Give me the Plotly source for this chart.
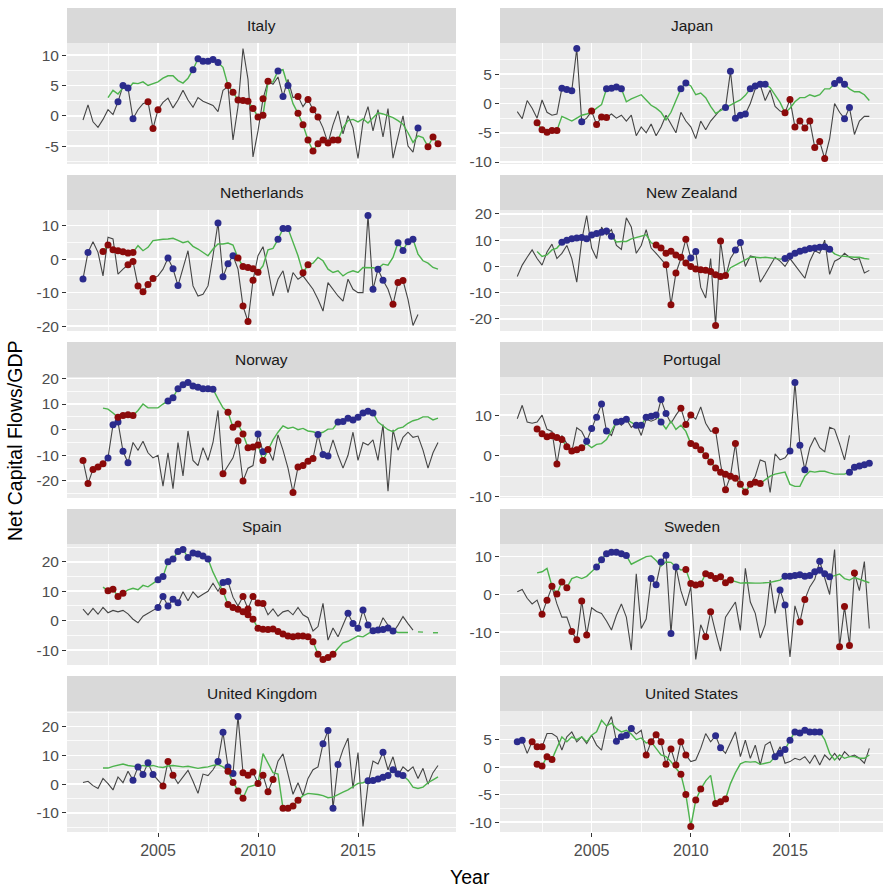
import plotly.graph_objects as go

# ---------------- data (quarterly, 2001.25 .. 2019.0) ----------------
START = 2001.25
STEP = 0.25
NQ = 72
quarters = [START + STEP * i for i in range(NQ)]
_ = None

italy_raw = [-0.7, 1.8, -1.0, -1.9, -0.6, 1.0, 0.2, 2.3, 5.0, 4.6,
             -0.5, 1.0, 2.0, 2.3, -2.1, 1.0, 2.2, 2.9, 1.3, 2.6,
             4.2, 2.6, 1.4, 3.0, 2.4, 2.1, 1.7, 0.7, 4.2, 4.8,
             -4.0, 1.5, 11.1, 6.0, -6.8, -2.5, 2.8, 5.7, 5.2, 6.4,
             3.2, 6.0, 3.0, 3.2, 1.5, 2.7, 1.0, -0.2, -2.0, -4.5,
             -1.5, 0.8, -3.0, 0.0, -2.0, -7.05, -1.0, 1.5, -2.5, 1.0,
             -3.5, 1.2, -7.0, -3.5, 0.0, -5.0, -6.0, -2.0, _, _, _, _]
italy_trend = [_, _, _, _, _, 3.0, 4.2, 3.6, 4.6, 4.4,
               5.4, 5.3, 5.6, 5.0, 5.3, 5.6, 6.2, 6.6, 6.6, 5.8,
               5.4, 6.2, 7.6, 9.4, 9.0, 9.0, 9.3, 8.8, 8.0, 5.0,
               3.9, 2.6, 2.5, 2.4, 1.2, -0.2, 0.1, 5.5, 5.6, 7.4,
               7.6, 5.0, 2.0, 0.4, -1.5, -4.0, -5.8, -4.6, -4.0, -4.5,
               -4.0, -4.0, -2.0, -0.8, -0.6, -1.0, -0.5, -1.2, -0.4, 0.5,
               0.3, 0.0, -0.3, -0.8, -1.4, -2.8, -4.4, -3.3, -3.6, -5.1, -3.5, -4.6]
italy_raw_surge = [7, 8, 9, 10, 40, 67]
italy_raw_stop = [13, 14, 15, 36, 37, 43, 45, 46, 47]
italy_trend_surge = [22, 23, 24, 25, 26, 27, 39, 41]
italy_trend_stop = [29, 30, 31, 32, 33, 34, 35, 36, 43, 44, 45, 46, 47, 48, 49, 50, 51, 69, 70, 71]

japan_raw = [-1.4, -2.6, 0.5, -0.8, -2.5, 0.6, -1.5, -2.0, -1.8, 2.6,
             2.4, 2.2, 9.4, -3.1, -2.5, -1.3, -3.6, -2.3, -2.4, -1.8,
             -2.5, -2.0, -3.0, -2.0, -5.5, -4.0, -5.0, -3.5, -5.5, -4.0,
             -2.0, -3.5, -5.0, -1.5, -3.0, -4.0, -6.0, -3.0, -4.5, -3.0,
             -2.0, -1.0, -0.7, 5.5, -2.5, -2.0, -1.8, 0.0, 2.5, 3.2,
             0.5, 2.3, -0.5, -1.3, -1.6, 0.7, -4.0, -3.0, -4.2, -3.0,
             -7.5, -6.5, -9.4, -6.0, 0.0, -1.5, -2.6, -0.7, -5.3, -3.0, -2.2, -2.2]
japan_trend = [_, _, _, _, -3.3, -4.5, -4.9, -4.6, -4.6, -2.2,
               -2.6, -3.0, -2.5, -2.0, -1.8, -1.5, -0.8, -0.2, 2.5, 2.6,
               2.8, 2.5, 0.3, 0.8, 1.2, 1.5, 0.6, -0.3, -0.8, -1.5,
               -2.8, -1.5, 0.5, 2.5, 3.5, 3.0, 1.5, 1.8, 1.0, -0.5,
               -1.7, -1.2, -0.8, -0.3, 0.2, 0.6, 1.4, 2.5, 3.0, 3.3,
               3.3, 2.7, 1.5, 0.2, -1.6, -0.8, 0.3, 1.0, 1.0, 1.5,
               1.2, 1.5, 2.5, 2.5, 3.4, 4.0, 3.3, 2.5, 2.0, 2.0, 1.5, 0.5]
japan_raw_surge = [9, 10, 11, 12, 13, 42, 43, 44, 45, 46, 66, 67]
japan_raw_stop = [15, 16, 17, 18, 55, 56, 57, 58, 59, 60, 61, 62]
japan_trend_surge = [18, 19, 20, 21, 33, 34, 47, 48, 49, 50, 64, 65, 66]
japan_trend_stop = [4, 5, 6, 7, 8, 54]

netherlands_raw = [-5.9, 2.0, 5.2, 2.0, -5.0, 6.5, 6.0, -4.5, -3.0, -1.7,
                   -0.7, -8.0, -9.7, -7.6, -5.8, -5.0, -3.0, 0.3, -2.9, -7.9,
                   -3.0, 2.5, -8.0, -11.0, -10.5, -8.0, 1.0, 10.8, -5.3, -1.4,
                   1.0, -3.0, -14.0, -18.6, -6.3, 1.0, 3.7, -3.0, -11.0, -6.0,
                   -3.5, -10.0, -4.0, -6.0, -5.0, -7.0, -9.0, -12.0, -15.5, -7.0,
                   -9.0, -11.0, -12.5, -6.0, -9.0, -10.0, -10.0, 13.0, -9.0, -3.0,
                   -6.3, -9.0, -13.5, -7.0, -6.4, -12.0, -19.8, -16.5, _, _, _, _]
netherlands_trend = [_, _, _, _, 2.3, 4.2, 2.8, 2.5, 2.2, 1.8,
                     2.0, 4.0, 2.5, 3.5, 5.5, 5.8, 5.9, 6.0, 6.2, 5.6,
                     4.9, 5.3, 3.8, 3.0, 2.0, 1.0, 3.0, 4.5, 4.5, 4.8,
                     4.2, 0.3, -2.2, -2.5, -2.9, -3.9, -2.0, 2.8, 3.2, 5.9,
                     9.1, 9.1, 5.0, 1.0, -4.1, -1.7, -1.2, 0.5, -0.5, -3.0,
                     -4.0, -3.5, -5.0, -4.0, -3.5, -4.0, -2.5, -2.5, -2.6, -2.8,
                     -1.5, -1.8, 0.5, 4.9, 2.6, 5.2, 5.9, 1.5, -0.5, -1.2, -2.5, -3.0]
netherlands_raw_surge = [0, 1, 17, 18, 19, 27, 28, 29, 30, 57, 58, 59, 60]
netherlands_raw_stop = [9, 10, 11, 12, 13, 14, 32, 33, 34, 62, 63, 64]
netherlands_trend_surge = [39, 40, 41, 63, 64, 65, 66]
netherlands_trend_stop = [4, 5, 6, 7, 8, 9, 10, 31, 32, 33, 34, 35, 44, 45]

nz_raw = [-3.8, 0.5, 3.5, 6.3, 3.0, 0.5, 5.5, 8.5, 3.0, 5.0,
          8.0, 3.0, -6.0, 10.0, 19.4, 7.0, 3.0, 15.0, 12.0, 14.0,
          8.0, 6.5, 18.5, 15.0, 5.0, 8.0, 14.0, 7.0, 5.0, 3.0,
          0.6, -14.6, -2.5, 3.0, 10.4, 3.2, 5.7, -8.0, -12.0, 3.0,
          -22.5, 9.7, -4.0, 3.0, 6.3, 9.1, 0.0, 4.0, 3.5, -6.0,
          -3.0, 0.5, 3.5, 2.0, 0.0, 3.0, 0.5, -2.0, -4.5, 2.0,
          6.0, 5.0, 10.0, -3.0, 2.0, 3.0, 5.0, 3.5, 2.5, 3.0, -2.5, -1.5]
nz_trend = [_, _, _, _, 5.7, 3.8, 4.4, 6.3, 7.0, 9.2,
            10.0, 10.5, 10.8, 11.0, 10.5, 12.0, 12.5, 13.0, 13.5, 11.5,
            9.3, 9.5, 9.5, 10.5, 11.0, 11.5, 12.0, 9.0, 8.2, 7.0,
            5.0, 5.8, 4.4, 3.5, 1.3, 0.0, -1.0, -1.3, -1.5, -1.9,
            -3.2, -3.8, -3.5, -0.5, 0.5, 1.5, 2.5, 3.5, 3.5, 3.3,
            3.5, 3.3, 3.0, 2.8, 3.0, 4.0, 5.0, 5.8, 6.3, 6.8,
            7.0, 7.3, 7.5, 6.5, 4.8, 4.0, 3.8, 3.5, 3.5, 3.5, 3.0, 2.8]
nz_raw_surge = [35, 36, 44, 45]
nz_raw_stop = [30, 31, 32, 34, 40, 41]
nz_trend_surge = [9, 10, 11, 12, 13, 14, 15, 16, 17, 18, 19,
                  54, 55, 56, 57, 58, 59, 60, 61, 62, 63]
nz_trend_stop = [28, 29, 30, 31, 32, 33, 34, 35, 36, 37, 38, 39, 40, 41, 42]

norway_raw = [-12.0, -21.0, -15.5, -14.6, -13.3, -11.0, 1.9, 3.0, -8.4, -12.9,
              -5.0, -8.0, -4.5, -9.0, -11.0, -10.0, -22.0, -9.0, -23.0, -5.0,
              -18.0, -0.5, -12.0, -14.0, -7.0, -12.0, -5.0, 7.5, -17.2, -14.0,
              -11.0, -4.3, -20.0, -15.0, -14.0, -1.7, -8.6, -7.7, -12.0, -2.0,
              -8.0, -15.0, -24.5, -14.6, -14.0, -12.3, -11.2, -1.9, -9.7, -10.3,
              -4.0, -10.0, -15.0, -10.0, -1.0, -12.0, -5.0, -6.0, -4.0, -12.0,
              2.0, -24.0, 0.0, -8.0, -3.0, -1.0, -3.0, -2.5, -8.0, -15.0, -9.0, -5.0]
norway_trend = [_, _, _, _, 8.4, 8.0, 6.5, 4.8, 5.5, 5.8,
                5.5, 7.5, 10.0, 8.5, 8.5, 8.5, 10.0, 11.2, 12.5, 16.0,
                17.5, 18.4, 17.0, 16.5, 16.0, 16.0, 15.8, 12.0, 8.5, 6.8,
                0.9, 2.2, -1.7, -7.0, -6.8, -6.0, -12.0, -8.0, -4.0, -1.0,
                1.5, 0.5, 1.0, 0.0, 0.5, -0.5, -0.8, -1.5, -1.0, 0.2,
                0.3, 3.0, 3.2, 4.5, 3.8, 4.8, 6.5, 7.2, 6.5, 3.0,
                1.5, 0.0, -0.8, 0.5, 1.0, 2.5, 3.5, 4.0, 5.0, 5.0, 3.8, 4.5]
norway_raw_surge = [5, 6, 7, 8, 9, 35, 36, 47, 48, 49]
norway_raw_stop = [0, 1, 2, 3, 4, 28, 31, 32, 37, 42, 43, 44, 45, 46]
norway_trend_surge = [17, 18, 19, 20, 21, 22, 23, 24, 25, 26,
                      51, 52, 53, 54, 55, 56, 57, 58]
norway_trend_stop = [7, 8, 9, 10, 29, 30, 31, 32, 33, 34, 35, 36]

portugal_raw = [9.1, 12.4, 8.3, 8.0, 8.3, 10.0, 6.5, 6.0, -2.0, 5.0,
                3.0, 1.0, 6.9, 6.0, 3.6, 6.7, 9.5, 12.7, 6.1, 5.0,
                8.5, 7.5, 9.0, 7.0, 8.0, 5.0, 9.0, 8.5, 9.0, 13.8,
                10.4, 8.0, 10.0, 11.7, 7.7, 10.0, 9.0, 12.0, 8.0, 6.0,
                6.2, -2.0, -8.3, -5.0, 3.0, -7.0, -9.0, -7.0, -5.0, -1.0,
                -1.5, -9.0, 0.5, -1.0, -0.5, 1.2, 18.0, 2.6, -3.4, 2.0,
                4.5, 2.0, 1.0, 7.0, 6.5, 3.0, -1.0, 5.0, _, _, _, _]
portugal_trend = [_, _, _, _, 6.6, 5.4, 4.7, 4.9, 4.5, 4.0,
                  2.2, 1.2, 1.5, 2.0, 3.0, 2.0, 2.8, 3.0, 4.0, 6.0,
                  8.3, 8.5, 9.0, 8.2, 7.5, 7.5, 9.5, 9.7, 10.0, 8.3,
                  6.6, 8.5, 6.5, 7.5, 6.0, 3.0, 2.5, 1.5, 0.0, -1.5,
                  -3.0, -4.0, -4.5, -5.0, -5.5, -7.0, -8.9, -7.0, -6.5, -6.8,
                  -6.0, -5.0, -4.5, -4.2, -4.0, -7.0, -7.5, -7.5, -5.0, -3.8,
                  -4.0, -3.8, -3.8, -4.2, -4.5, -4.5, -4.5, -4.0, -2.8, -2.5, -2.2, -1.8]
portugal_raw_surge = [14, 15, 16, 17, 18, 29, 30, 55, 56, 57, 58]
portugal_raw_stop = [8, 33, 34, 35, 40, 42, 44]
portugal_trend_surge = [20, 21, 22, 24, 25, 26, 27, 28, 29, 67, 68, 69, 70, 71]
portugal_trend_stop = [4, 5, 6, 7, 8, 9, 10, 11, 12, 13,
                       35, 36, 37, 38, 39, 40, 41, 42, 43, 44, 45, 46, 47, 48, 49]

spain_raw = [3.9, 2.0, 4.2, 2.2, 4.5, 2.7, 3.5, 3.0, 3.5, 2.3,
             0.5, -0.7, 1.5, 2.5, 3.5, 4.5, 8.2, 5.0, 7.3, 6.1,
             9.8, 6.8, 9.8, 7.9, 9.0, 10.0, 12.7, 10.0, 13.0, 13.3,
             8.0, 5.0, 8.2, 4.0, 8.2, 6.0, 5.8, 2.0, 4.0, 1.5,
             3.0, 3.5, 2.0, 4.5, 2.0, 1.0, -3.5, -2.0, 5.9, -6.6,
             -2.5, -5.5, -1.5, 2.5, -1.0, -2.6, 3.6, -1.5, -3.7, -3.2,
             1.0, -1.5, -4.0, -1.5, 1.4, -1.0, -3.2, _, _, _, _, _]
spain_trend = [_, _, _, _, 11.4, 10.2, 10.7, 8.2, 9.3, 10.5,
               11.0, 10.5, 12.0, 11.5, 12.7, 13.9, 15.0, 20.0, 21.0, 23.5,
               24.2, 21.5, 23.0, 22.7, 22.0, 21.0, 16.5, 13.0, 9.9, 5.5,
               4.5, 3.9, 3.0, 2.0, 0.5, -2.6, -2.9, -3.0, -2.8, -3.7,
               -4.5, -5.2, -5.5, -5.2, -5.2, -5.5, -7.2, -11.4, -13.2, -12.5,
               -11.4, -9.4, -7.5, -7.0, -6.0, -5.2, -5.5, -4.5, -3.4, -3.2,
               -3.0, -2.5, -3.5, -4.0, -4.0, -4.0, _, -3.8, -3.9, _, -4.1, -4.1]
spain_raw_surge = [15, 16, 17, 18, 19, 28, 29, 53, 54, 55, 56, 57]
spain_raw_stop = [32, 33, 34, 35, 36]
spain_trend_surge = [15, 16, 17, 18, 19, 20, 21, 22, 23, 24, 25, 58, 59, 60, 61, 62]
spain_trend_stop = [5, 6, 7, 8] + list(range(28, 51))

sweden_raw = [0.7, 1.3, -1.0, -2.5, -1.5, -5.2, -1.5, 2.0, -2.5, -6.0,
              -6.0, -9.8, -12.0, -1.7, -10.7, -3.5, -4.5, -5.0, -7.0, -9.4,
              -5.5, -2.5, -6.0, -14.7, 5.5, -9.0, -6.5, 4.2, 2.6, 8.6,
              10.4, -10.3, 7.3, 1.0, -3.0, 2.0, -17.2, -8.0, -11.2, -4.6,
              -10.0, -15.0, -6.0, -4.0, -2.0, -9.5, 6.9, -2.0, -5.0, -11.5,
              -8.0, 3.8, -5.0, 1.2, -2.8, -16.5, -3.0, -7.3, -1.3, 2.0,
              4.0, 8.8, 4.5, 0.0, 11.9, -13.8, -3.2, -13.5, 5.7, 1.0, 8.7, -9.0]
sweden_trend = [_, _, _, _, 5.7, 6.0, 6.9, 2.2, 0.1, 3.3,
                1.8, 4.2, 4.7, 4.2, 4.8, 6.0, 7.3, 9.2, 10.8, 11.2,
                11.2, 10.8, 10.3, 8.0, 8.7, 9.5, 10.0, 10.2, 9.0, 7.5,
                8.6, 8.5, 7.3, 6.5, 6.6, 2.9, 2.5, 2.8, 5.5, 5.0,
                4.2, 4.7, 3.1, 3.8, 3.3, 3.0, 3.1, 3.0, 3.0, 3.0,
                3.0, 3.2, 3.5, 3.8, 4.8, 4.8, 5.0, 5.2, 4.8, 5.0,
                6.0, 6.4, 5.5, 4.7, 5.0, 5.4, 4.2, 3.8, 4.5, 4.0, 3.5, 3.1]
sweden_raw_surge = [27, 28, 29, 30, 31, 32, 53, 54, 61]
sweden_raw_stop = [5, 6, 11, 12, 13, 14, 38, 39, 57, 58, 65, 66, 67, 68]
sweden_trend_surge = [16, 17, 18, 19, 20, 21, 22, 54, 55, 56, 57, 58, 59, 60, 61, 62, 63]
sweden_trend_stop = [7, 8, 9, 10, 34, 35, 36, 37, 38, 39, 40, 41, 42, 43]

uk_raw = [0.6, 1.0, -0.5, -1.5, 2.0, 0.2, -2.0, 2.5, 0.5, 4.5,
          1.4, 6.0, 3.4, 7.4, 3.4, 1.5, -0.6, 7.9, 3.1, 0.2,
          2.5, 4.8, 1.0, -3.2, 3.5, 3.0, 5.0, 7.9, 18.0, 6.0,
          3.7, 23.5, 4.0, 3.1, 4.2, 0.2, 3.1, -2.6, 1.6, 8.0,
          10.5, 3.0, -3.5, 0.5, -4.0, 2.0, 5.0, 6.0, 14.0, 18.6,
          -8.4, 6.8, 12.0, 16.0, -1.5, 11.0, -14.7, 0.0, 8.0, 7.0,
          11.1, 5.0, 9.5, 3.0, 6.0, 4.5, 6.0, 2.0, 5.5, 0.0, 4.0, 6.5]
uk_trend = [_, _, _, _, 5.6, 5.6, 6.2, 6.5, 7.0, 6.5,
            6.3, 6.0, 6.5, 6.2, 6.5, 6.0, 5.8, 6.3, 6.5, 6.3,
            6.0, 6.2, 5.8, 5.5, 5.8, 6.0, 6.5, 6.8, 6.0, 4.5,
            0.6, -2.4, -4.9, -1.0, -0.5, 0.0, 10.6, 7.0, 4.0, 3.5,
            -8.4, -8.4, -7.6, -5.6, -4.0, -3.2, -3.3, -3.6, -4.0, -4.7,
            -4.5, -3.5, -2.8, -2.0, -1.0, 0.3, 0.5, 1.2, 1.3, 1.8,
            2.4, 3.0, 5.0, 3.5, 3.0, 1.5, -1.0, -1.5, -1.0, 0.5, 1.5, 2.5]
uk_raw_surge = [10, 11, 12, 13, 14, 27, 28, 29, 30, 31, 48, 49, 50, 51, 60]
uk_raw_stop = [16, 17, 18, 32, 33, 34, 35, 36, 37, 38]
uk_trend_surge = [57, 58, 59, 60, 61, 62, 63, 64]
uk_trend_stop = [29, 30, 31, 32, 40, 41, 42, 43]

us_raw = [4.6, 4.9, 2.5, 4.6, 3.7, 3.7, 6.1, 6.1, 5.5, 3.1,
          5.5, 6.4, 4.6, 5.5, 4.3, 5.8, 4.0, 3.1, 7.3, 9.2,
          4.7, 5.5, 5.8, 7.0, 6.0, 6.7, 2.2, 4.6, 5.9, 4.6,
          0.5, 3.3, 0.4, 4.6, 2.2, 1.0, 1.3, 3.4, 6.1, 4.6,
          5.7, 3.5, 2.5, 4.6, 6.4, 1.9, 4.9, 1.6, 4.0, 0.4,
          4.0, 4.6, 1.9, 3.7, 0.7, 1.0, 1.6, 1.3, 1.9, 0.7,
          2.2, 0.4, 2.2, 1.3, 2.5, 1.3, 2.8, 1.9, 2.2, 1.6, 0.7, 3.4]
us_trend = [_, _, _, _, 0.5, 0.2, 1.9, 1.4, 3.5, 5.5,
            4.6, 5.5, 5.0, 5.5, 4.6, 5.8, 6.4, 8.5, 7.5, 8.0,
            7.0, 6.4, 6.7, 6.0, 5.0, 5.3, 4.4, 4.6, 3.4, 2.2,
            1.9, 1.0, -0.2, -1.3, -5.0, -10.8, -6.0, -4.0, -2.5, -1.5,
            -6.6, -6.3, -5.8, -3.0, -1.0, 0.6, 1.0, 0.9, 1.0, 0.5,
            0.7, 0.9, 1.9, 2.5, 3.2, 4.9, 6.4, 6.2, 6.7, 6.4,
            6.4, 6.4, 5.0, 2.5, 1.3, 2.2, 1.6, 1.9, 1.9, 1.6, 1.6, 2.2]
us_raw_surge = [0, 1, 20, 21, 22, 23, 40, 41]
us_raw_stop = [3, 4, 5, 26, 27, 28, 29, 30, 31, 32, 33, 34]
us_trend_surge = [52, 53, 54, 55, 56, 57, 58, 59, 60, 61]
us_trend_stop = [4, 5, 6, 7, 33, 34, 35, 36, 37, 40, 41, 42]

countries = ["Italy", "Japan", "Netherlands", "New Zealand", "Norway",
             "Portugal", "Spain", "Sweden", "United Kingdom", "United States"]
y_ticks = [[-5, 0, 5, 10], [-10, -5, 0, 5], [-20, -10, 0, 10], [-20, -10, 0, 10, 20],
           [-20, -10, 0, 10, 20], [-10, 0, 10], [-10, 0, 10, 20], [-10, 0, 10],
           [-10, 0, 10, 20], [-10, -5, 0, 5]]
x_ticks = [2005, 2010, 2015]

panels = [
    (italy_raw, italy_trend, italy_raw_surge, italy_raw_stop, italy_trend_surge, italy_trend_stop),
    (japan_raw, japan_trend, japan_raw_surge, japan_raw_stop, japan_trend_surge, japan_trend_stop),
    (netherlands_raw, netherlands_trend, netherlands_raw_surge, netherlands_raw_stop,
     netherlands_trend_surge, netherlands_trend_stop),
    (nz_raw, nz_trend, nz_raw_surge, nz_raw_stop, nz_trend_surge, nz_trend_stop),
    (norway_raw, norway_trend, norway_raw_surge, norway_raw_stop, norway_trend_surge, norway_trend_stop),
    (portugal_raw, portugal_trend, portugal_raw_surge, portugal_raw_stop,
     portugal_trend_surge, portugal_trend_stop),
    (spain_raw, spain_trend, spain_raw_surge, spain_raw_stop, spain_trend_surge, spain_trend_stop),
    (sweden_raw, sweden_trend, sweden_raw_surge, sweden_raw_stop, sweden_trend_surge, sweden_trend_stop),
    (uk_raw, uk_trend, uk_raw_surge, uk_raw_stop, uk_trend_surge, uk_trend_stop),
    (us_raw, us_trend, us_raw_surge, us_raw_stop, us_trend_surge, us_trend_stop),
]

# ---------------- styling / layout ----------------
W, H = 883, 889
COLS = [(67, 456), (500, 883)]
XR = [[2000.45, 2019.9], [2000.38, 2019.69]]
ROW0, ROWSTEP, STRIP_H, PANEL_BOTTOM = 8, 167, 35, 156

GREY_LINE = "#454545"
GREEN = "#4DB34D"
SURGE = "#2B2B8C"
STOP = "#8B0A0A"
FONT = "Liberation Sans, Arial, sans-serif"

fig = go.Figure()
layout = dict(width=W, height=H, autosize=False, margin=dict(l=0, r=0, t=0, b=0, autoexpand=False),
              paper_bgcolor="white", plot_bgcolor="#EBEBEB", showlegend=False,
              hovermode=False, font=dict(family=FONT))
shapes, annotations = [], []


def pick(series, idx):
    return [quarters[i] for i in idx], [series[i] for i in idx]


for k, (raw, trend, rs, rt, ts, tt) in enumerate(panels):
    row, col = divmod(k, 2)
    n = k + 1
    xa, ya = f"x{n}", f"y{n}"
    x0, x1 = COLS[col]
    top = ROW0 + ROWSTEP * row
    sb = top + STRIP_H
    pb = top + PANEL_BOTTOM

    fig.add_trace(go.Scatter(x=quarters, y=raw, mode="lines", xaxis=xa, yaxis=ya,
                             line=dict(color=GREY_LINE, width=1.1), connectgaps=False))
    fig.add_trace(go.Scatter(x=quarters, y=trend, mode="lines", xaxis=xa, yaxis=ya,
                             line=dict(color=GREEN, width=1.4), connectgaps=False))
    for series, idx, colr in ((raw, rs, SURGE), (raw, rt, STOP), (trend, ts, SURGE), (trend, tt, STOP)):
        px, py = pick(series, idx)
        fig.add_trace(go.Scatter(x=px, y=py, mode="markers", xaxis=xa, yaxis=ya,
                                 marker=dict(color=colr, size=7, line=dict(width=0))))

    vals = [v for v in raw + trend if v is not None]
    lo, hi = min(vals), max(vals)
    pad = 0.05 * (hi - lo)
    yr = [lo - pad, hi + pad]
    tv = y_ticks[k]
    d = tv[1] - tv[0]
    minor = [tv[0] - d / 2] + [v + d / 2 for v in tv]
    minor = [m for m in minor if yr[0] <= m <= yr[1]]

    bottom = row == 4
    layout[f"xaxis{n if n > 1 else ''}"] = dict(
        domain=[x0 / W, x1 / W], range=XR[col], anchor=ya, tickmode="array",
        tickvals=x_ticks, ticktext=[str(v) for v in x_ticks], showticklabels=bottom,
        ticks="outside" if bottom else "", ticklen=4, tickcolor="#333333", tickwidth=1,
        tickfont=dict(size=16, color="#4D4D4D", family=FONT),
        showgrid=True, gridcolor="white", gridwidth=1.6, zeroline=False, showline=False,
        minor=dict(tickmode="array", tickvals=[2002.5, 2007.5, 2012.5, 2017.5],
                   showgrid=True, gridcolor="white", gridwidth=0.8))
    layout[f"yaxis{n if n > 1 else ''}"] = dict(
        domain=[1 - pb / H, 1 - sb / H], range=yr, anchor=xa, tickmode="array",
        tickvals=tv, ticktext=[str(v) for v in tv], ticks="outside", ticklen=4,
        tickcolor="#333333", tickwidth=1,
        tickfont=dict(size=15.5, color="#4D4D4D", family=FONT),
        showgrid=True, gridcolor="white", gridwidth=1.6, zeroline=False, showline=False,
        minor=dict(tickmode="array", tickvals=minor, showgrid=True, gridcolor="white",
                   gridwidth=0.8))

    shapes.append(dict(type="rect", xref="paper", yref="paper", x0=x0 / W, x1=x1 / W,
                       y0=1 - sb / H, y1=1 - top / H, fillcolor="#D9D9D9",
                       line=dict(width=0), layer="below"))
    annotations.append(dict(text=countries[k], xref="paper", yref="paper",
                            x=(x0 + x1) / 2 / W, y=1 - (top + STRIP_H / 2) / H,
                            xanchor="center", yanchor="middle", showarrow=False,
                            font=dict(size=15.5, color="#1A1A1A", family=FONT)))

annotations.append(dict(text="Year", xref="paper", yref="paper", x=470 / W, y=1 - 877 / H,
                        xanchor="center", yanchor="middle", showarrow=False,
                        font=dict(size=19.5, color="black", family=FONT)))
annotations.append(dict(text="Net Capital Flows/GDP", xref="paper", yref="paper",
                        x=15 / W, y=1 - 441 / H, xanchor="center", yanchor="middle",
                        textangle=-90, showarrow=False,
                        font=dict(size=19.5, color="black", family=FONT)))

layout["shapes"] = shapes
layout["annotations"] = annotations
fig.update_layout(**layout)

# remove the browser's default page margin so the 883x889 figure fills the window exactly
fig.write_html("out.html", config={"displayModeBar": False, "staticPlot": True},
               post_script="document.body.style.margin='0';document.body.style.overflow='hidden';")
